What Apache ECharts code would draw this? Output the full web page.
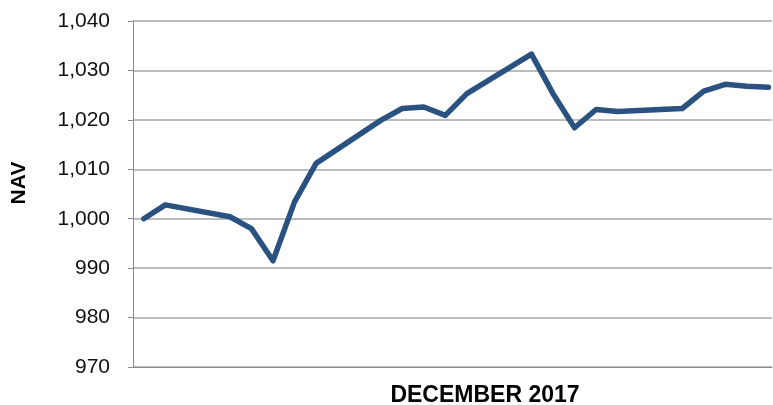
<!DOCTYPE html>
<html lang="en">
<head>
    <meta charset="UTF-8">
    <title>NAV December 2017</title>
    <script src="https://cdn.jsdelivr.net/npm/echarts@6/dist/echarts.min.js"></script>
    <style>
        html, body { margin: 0; padding: 0; background: #fff; }
        #main { width: 773px; height: 405px; }
    </style>
</head>
<body>
<div id="main"></div>
<script type="text/javascript">
    // trading days (weekends skipped, line joins straight across them)
    var days = ['2017-11-30', '2017-12-01', '2017-12-04', '2017-12-05', '2017-12-06', '2017-12-07',
        '2017-12-08', '2017-12-11', '2017-12-12', '2017-12-13', '2017-12-14', '2017-12-15',
        '2017-12-18', '2017-12-19', '2017-12-20', '2017-12-21', '2017-12-22', '2017-12-25',
        '2017-12-26', '2017-12-27', '2017-12-28', '2017-12-29'];
    var nav = [1000.0, 1002.8, 1000.4, 998.0, 991.5, 1003.4,
        1011.2, 1019.9, 1022.3, 1022.6, 1020.9, 1025.3,
        1033.3, 1025.3, 1018.4, 1022.1, 1021.7, 1022.3,
        1025.8, 1027.2, 1026.8, 1026.6];
    var yTicks = [970, 980, 990, 1000, 1010, 1020, 1030, 1040];
    var xTitle = 'DECEMBER 2017';
    var yTitle = 'NAV';

    var seriesData = [];
    days.forEach(function (d, i) {
        seriesData.push([d, nav[i]]);
    });

    var xMin = new Date(2017, 10, 29, 12).getTime();
    var xMax = new Date(2017, 11, 29, 4).getTime();

    var myChart = echarts.init(document.getElementById('main'));
    var option = {
        animation: false,
        grid: {
            left: 133,
            right: 1,
            top: 21,
            bottom: 38
        },
        xAxis: {
            type: 'time',
            min: xMin,
            max: xMax,
            axisLine: {show: true, lineStyle: {color: '#8c8c8c', width: 1}},
            axisTick: {show: false},
            axisLabel: {show: false},
            splitLine: {show: false}
        },
        yAxis: {
            type: 'value',
            min: yTicks[0],
            max: yTicks[yTicks.length - 1],
            interval: 10,
            axisLine: {show: true, lineStyle: {color: '#8c8c8c', width: 1}},
            axisTick: {show: true, length: 5, lineStyle: {color: '#8c8c8c'}},
            axisLabel: {
                margin: 23,
                fontFamily: 'Liberation Sans',
                fontSize: 21,
                color: '#111',
                formatter: function (v) {
                    return v.toLocaleString('en-US');
                }
            },
            splitLine: {show: true, lineStyle: {color: '#a6a6a6', width: 1.5}}
        },
        graphic: [{
            type: 'text',
            x: 485,
            y: 396,
            style: {
                text: xTitle,
                fontFamily: 'Liberation Sans',
                fontWeight: 'bold',
                fontSize: 23,
                fill: '#000',
                align: 'center',
                verticalAlign: 'middle'
            }
        }, {
            type: 'text',
            x: 19,
            y: 183,
            rotation: Math.PI / 2,
            style: {
                text: yTitle,
                fontFamily: 'Liberation Sans',
                fontWeight: 'bold',
                fontSize: 21,
                fill: '#000',
                align: 'center',
                verticalAlign: 'middle'
            }
        }],
        series: [{
            name: 'NAV',
            type: 'line',
            data: seriesData,
            showSymbol: false,
            symbol: 'none',
            lineStyle: {color: '#2a5280', width: 5.5, cap: 'round', join: 'round'}
        }]
    };
    myChart.setOption(option);
</script>
</body>
</html>
